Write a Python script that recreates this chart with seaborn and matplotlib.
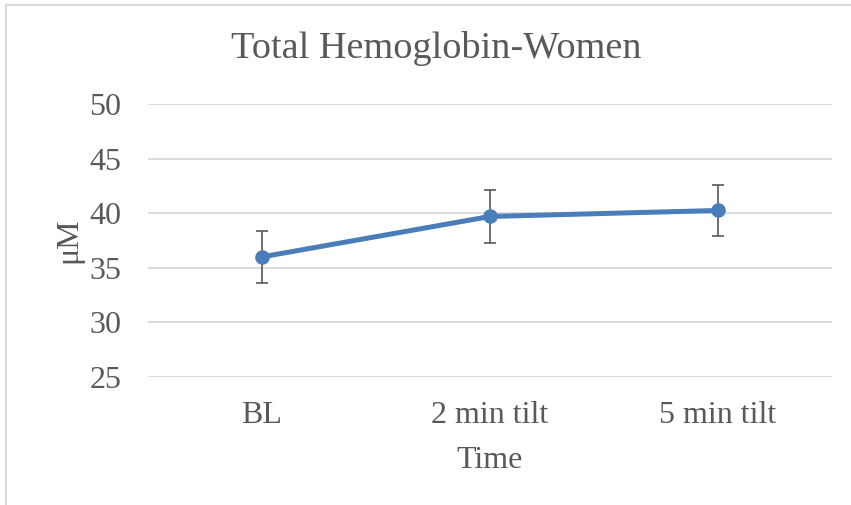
import matplotlib
matplotlib.use("Agg")
import matplotlib.pyplot as plt
from matplotlib.lines import Line2D
import seaborn as sns
import pandas as pd

categories = ["BL", "2 min tilt", "5 min tilt"]
means = [36.0, 39.7, 40.25]
errors = [2.4, 2.45, 2.35]
yticks = [25, 30, 35, 40, 45, 50]

sns.set_theme(style="white")
plt.rcParams['font.family'] = ['Liberation Serif', 'DejaVu Serif']

grey = "#595959"
blue = "#4A7EBB"

fig = plt.figure(figsize=(8.51, 5.05), dpi=100)
ax = fig.add_axes([148/851, 128/505, 684/851, 273/505])

df = pd.DataFrame({"Time": categories, "val": means})
sns.lineplot(data=df, x="Time", y="val", ax=ax, color=blue, linewidth=3.6,
             marker="o", markersize=10.5, markeredgewidth=0, sort=False, zorder=3)
ax.errorbar(categories, means, yerr=errors, fmt="none", ecolor=grey,
            elinewidth=1.2, capsize=4.3, capthick=1.2, zorder=2)

ax.set_xlim(-0.5, 2.5)
ax.set_ylim(25, 50)
ax.set_yticks(yticks)
ax.yaxis.grid(True, color="#D9D9D9", linewidth=1.3)
ax.xaxis.grid(False)
for s in ax.spines.values():
    s.set_visible(False)
ax.tick_params(axis="both", length=0, labelsize=23, labelcolor=grey)
ax.tick_params(axis="y", pad=19)
ax.tick_params(axis="x", pad=17)
ax.set_xlabel("")
ax.set_ylabel("")
fig.text(490/851, 1 - 460/505, "Time", fontsize=23, color=grey,
         ha="center", va="center")
fig.text(69/851, 1 - 240/505, "μM", fontsize=23, color=grey,
         ha="center", va="center", rotation=90)
fig.text(436/851, 1 - 48/505, "Total Hemoglobin-Women", fontsize=27.5, color=grey,
         ha="center", va="center")

# chart frame
fig.add_artist(Line2D([6/851, 6/851], [0, 1 - 5/505], transform=fig.transFigure,
                      color="#D9D9D9", linewidth=1.5))
fig.add_artist(Line2D([6/851, 1], [1 - 5/505, 1 - 5/505], transform=fig.transFigure,
                      color="#D9D9D9", linewidth=1.5))

fig.savefig("out.png", dpi=100, facecolor="white")
